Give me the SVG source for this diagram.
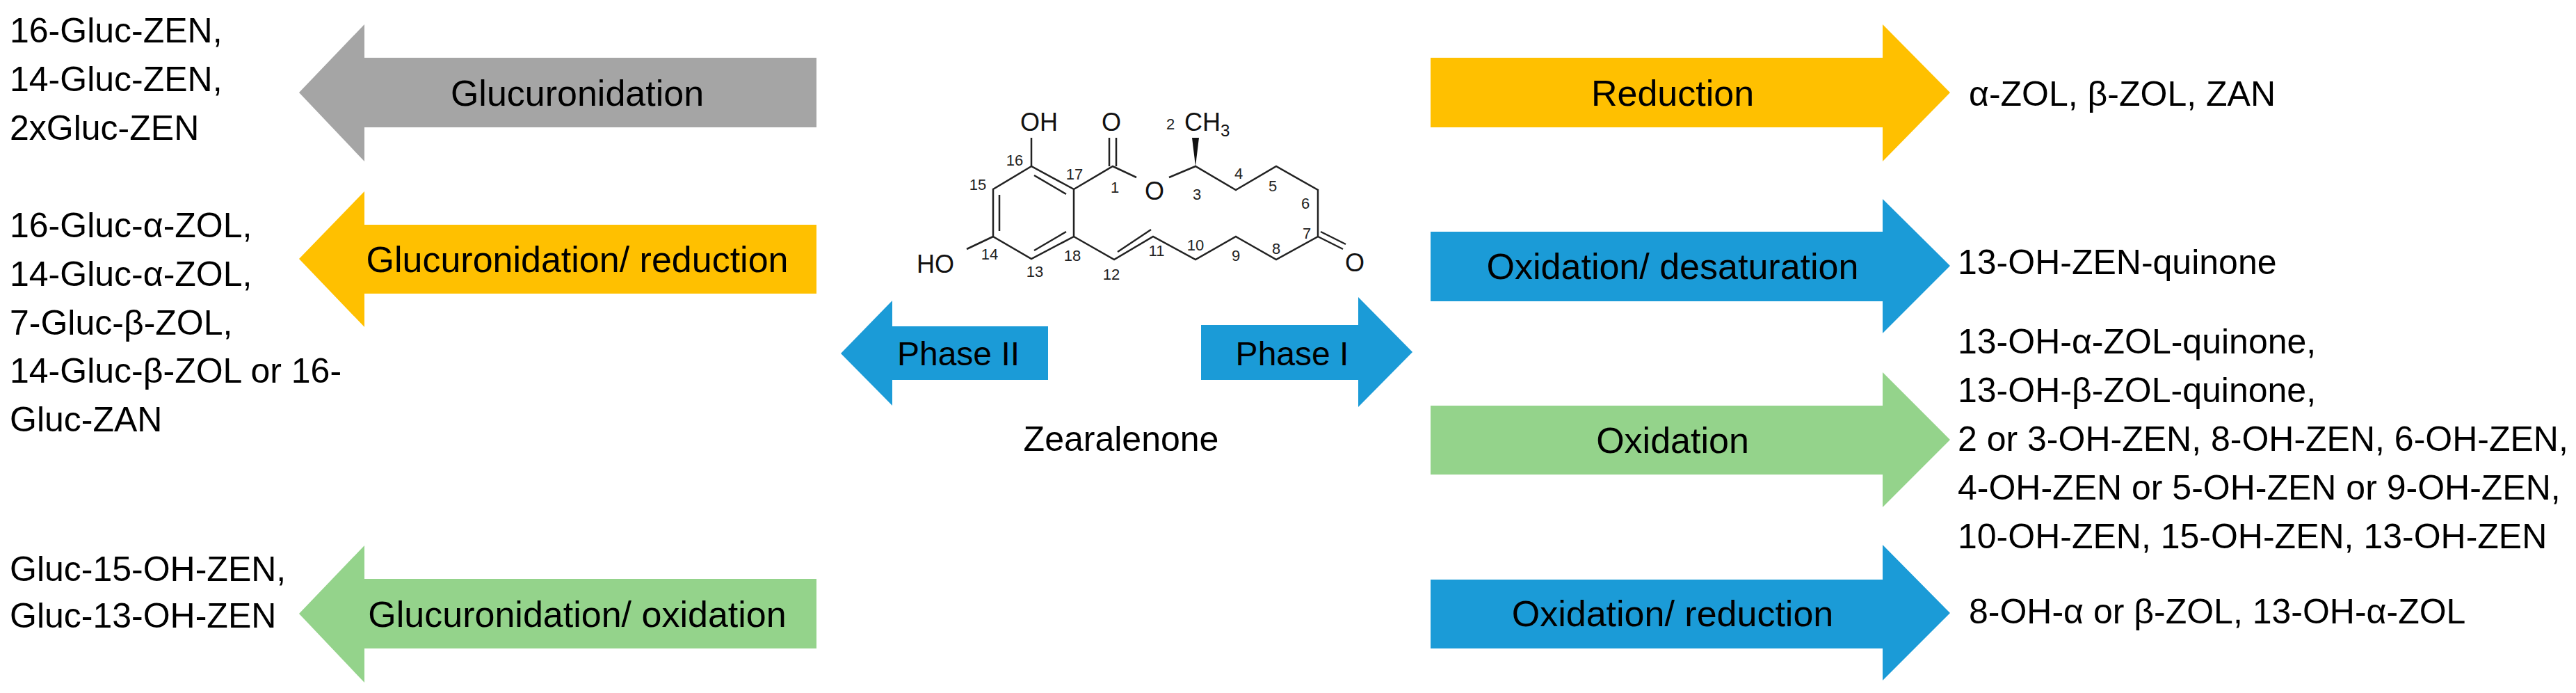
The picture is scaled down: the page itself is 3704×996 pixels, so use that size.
<svg xmlns="http://www.w3.org/2000/svg" width="3704" height="996" viewBox="0 0 3704 996">
<style>
.t{font-family:"Liberation Sans",Arial,sans-serif;font-size:50px;fill:#000}
.lb{font-family:"Liberation Sans",Arial,sans-serif;font-size:52px;fill:#000;text-anchor:middle}
.ph{font-family:"Liberation Sans",Arial,sans-serif;font-size:48px;fill:#000;text-anchor:middle}
.n{font-family:"Liberation Sans",Arial,sans-serif;font-size:22px;fill:#222;text-anchor:middle}
.a{font-family:"Liberation Sans",Arial,sans-serif;font-size:36px;fill:#111}
.gy{fill:#A5A5A5}.yl{fill:#FFC000}.bl{fill:#1B9BD7}.gr{fill:#94D38B}
.b{stroke:#222;stroke-width:2.5;fill:none}
</style>
<rect width="3704" height="996" fill="#fff"/>
<g id="left-texts">
<text class="t" x="14" y="61">16-Gluc-ZEN,</text>
<text class="t" x="14" y="131">14-Gluc-ZEN,</text>
<text class="t" x="14" y="201">2xGluc-ZEN</text>
<text class="t" x="14" y="341">16-Gluc-α-ZOL,</text>
<text class="t" x="14" y="411">14-Gluc-α-ZOL,</text>
<text class="t" x="14" y="481">7-Gluc-β-ZOL,</text>
<text class="t" x="14" y="550">14-Gluc-β-ZOL or 16-</text>
<text class="t" x="14" y="620">Gluc-ZAN</text>
<text class="t" x="14" y="835">Gluc-15-OH-ZEN,</text>
<text class="t" x="14" y="902">Gluc-13-OH-ZEN</text>
</g>
<g id="arrow-glucuronidation">
<polygon class="gy" points="430,133 524,35 524,83 1174,83 1174,183 524,183 524,232"/>
<text class="lb" x="830" y="152">Glucuronidation</text>
</g>
<g id="arrow-gluc-reduction">
<polygon class="yl" points="430,372 524,275 524,323 1174,323 1174,422 524,422 524,470"/>
<text class="lb" x="830" y="391">Glucuronidation/ reduction</text>
</g>
<g id="arrow-gluc-oxidation">
<polygon class="gr" points="430,882 524,784 524,832 1174,832 1174,932 524,932 524,981"/>
<text class="lb" x="830" y="901">Glucuronidation/ oxidation</text>
</g>
<g id="arrow-phase2">
<polygon class="bl" points="1209,508 1283,432 1283,469 1507,469 1507,546 1283,546 1283,583"/>
<text class="ph" x="1378" y="525">Phase II</text>
</g>
<g id="arrow-phase1">
<polygon class="bl" points="2031,506 1953,427 1953,467 1727,467 1727,546 1953,546 1953,585"/>
<text class="ph" x="1858" y="525">Phase I</text>
</g>
<g id="arrow-reduction">
<polygon class="yl" points="2804,133 2707,35 2707,83 2057,83 2057,183 2707,183 2707,232"/>
<text class="lb" x="2405" y="152">Reduction</text>
</g>
<g id="arrow-ox-desat">
<polygon class="bl" points="2804,382 2707,286 2707,333 2057,333 2057,433 2707,433 2707,479"/>
<text class="lb" x="2405" y="401">Oxidation/ desaturation</text>
</g>
<g id="arrow-oxidation">
<polygon class="gr" points="2804,632 2707,535 2707,583 2057,583 2057,682 2707,682 2707,729"/>
<text class="lb" x="2405" y="651">Oxidation</text>
</g>
<g id="arrow-ox-red">
<polygon class="bl" points="2804,881 2707,783 2707,833 2057,833 2057,932 2707,932 2707,978"/>
<text class="lb" x="2405" y="900">Oxidation/ reduction</text>
</g>
<g id="right-texts">
<text class="t" x="2831" y="152">α-ZOL, β-ZOL, ZAN</text>
<text class="t" x="2815" y="394">13-OH-ZEN-quinone</text>
<text class="t" x="2815" y="508">13-OH-α-ZOL-quinone,</text>
<text class="t" x="2815" y="578">13-OH-β-ZOL-quinone,</text>
<text class="t" x="2815" y="648">2 or 3-OH-ZEN, 8-OH-ZEN, 6-OH-ZEN,</text>
<text class="t" x="2815" y="718">4-OH-ZEN or 5-OH-ZEN or 9-OH-ZEN,</text>
<text class="t" x="2815" y="788">10-OH-ZEN, 15-OH-ZEN, 13-OH-ZEN</text>
<text class="t" x="2831" y="896">8-OH-α or β-ZOL, 13-OH-α-ZOL</text>
</g>
<g id="zearalenone">
<path class="b" d="M1483,239 L1428,272 L1428,340 L1483,372 L1544,340 L1544,272 Z"/>
<path class="b" d="M1437,280 L1437,332 M1487,252 L1533,279 M1487,360 L1533,333"/>
<path class="b" d="M1483,239 L1483,198 M1428,340 L1390,358"/>
<path class="b" d="M1544,272 L1600,239 L1634,255 M1681,255 L1719,239 L1777,273 L1835,239 L1895,273 L1895,340 L1835,373 L1777,340 L1719,373 L1658,340 L1602,373 L1544,340"/>
<path class="b" d="M1595,239 L1595,198 M1605,239 L1605,198"/>
<path class="b" d="M1895,340 L1931,358 M1899,333 L1935,351"/>
<path class="b" d="M1607,362 L1655,330"/>
<polygon points="1719,239 1714,198 1724,198" fill="#111"/>
<text class="a" x="1467" y="188">OH</text>
<text class="a" x="1584" y="188">O</text>
<text class="a" x="1646" y="287">O</text>
<text class="a" x="1318" y="392">HO</text>
<text class="a" x="1934" y="390">O</text>
<text class="a" x="1703" y="188">CH<tspan font-size="24" dy="8">3</tspan></text>
<text class="n" x="1683" y="186">2</text>
<text class="n" x="1459" y="238">16</text>
<text class="n" x="1406" y="273">15</text>
<text class="n" x="1545" y="258">17</text>
<text class="n" x="1603" y="277">1</text>
<text class="n" x="1721" y="287">3</text>
<text class="n" x="1781" y="257">4</text>
<text class="n" x="1830" y="275">5</text>
<text class="n" x="1877" y="300">6</text>
<text class="n" x="1879" y="343">7</text>
<text class="n" x="1835" y="365">8</text>
<text class="n" x="1777" y="375">9</text>
<text class="n" x="1719" y="360">10</text>
<text class="n" x="1663" y="368">11</text>
<text class="n" x="1598" y="402">12</text>
<text class="n" x="1542" y="375">18</text>
<text class="n" x="1488" y="398">13</text>
<text class="n" x="1423" y="373">14</text>
<text class="t" x="1612" y="648" text-anchor="middle">Zearalenone</text>
</g>
</svg>
